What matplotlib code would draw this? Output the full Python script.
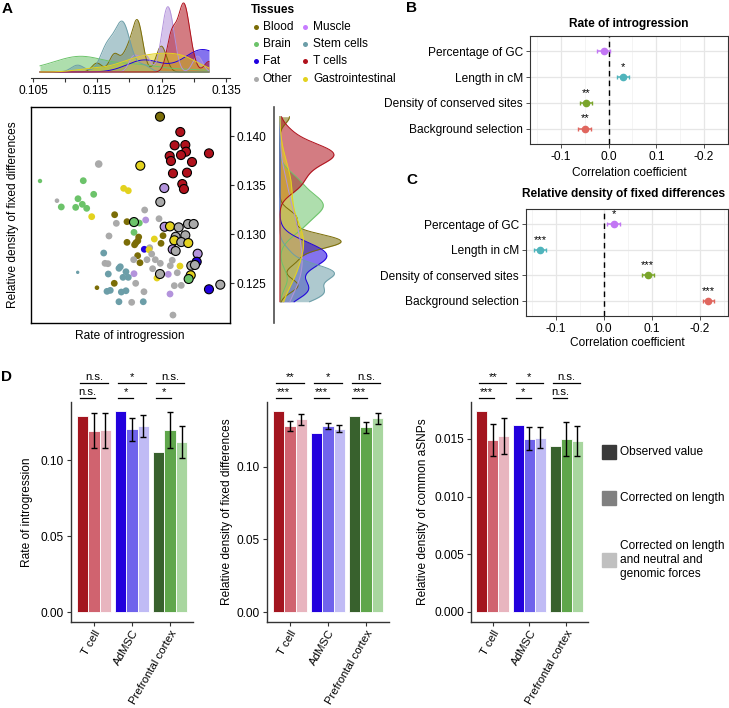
import numpy as np
import matplotlib
matplotlib.use("Agg")
import matplotlib.pyplot as plt
from matplotlib.patches import Rectangle
from matplotlib.transforms import blended_transform_factory

plt.rcParams['font.family'] = ['Liberation Sans', 'DejaVu Sans']
plt.rcParams['font.size'] = 8.6

W, H = 729, 708

# ---------------- Panel A data ----------------
tissue_names = ['Blood', 'Brain', 'Fat', 'Other', 'Muscle', 'Stem cells', 'T cells', 'Gastrointestinal']
tissue_colors = ['#7b6d07', '#6cc36a', '#2000e0', '#aaaaaa', '#b393dc', '#6c9ea8', '#b0111c', '#e3d21e']
legend_dot_colors = ['#7b6d07', '#6cc36a', '#2000e0', '#aaaaaa', '#c77cff', '#6c9ea8', '#b0111c', '#e3d21e']

rate = [0.12475, 0.12791, 0.12703, 0.12869, 0.12880, 0.12802, 0.12626, 0.12646, 0.12973, 0.13237,
        0.12677, 0.12895, 0.12822, 0.12848, 0.12169, 0.11522, 0.10609, 0.11282, 0.10873, 0.11200,
        0.10940, 0.11164, 0.11267, 0.11335, 0.11444, 0.11910, 0.11982, 0.12542, 0.12480, 0.11413,
        0.11770, 0.12237, 0.12253, 0.12460, 0.11796, 0.11962, 0.12071, 0.12153, 0.12548, 0.12631,
        0.12766, 0.12911, 0.12999, 0.12071, 0.11682, 0.12144, 0.12100, 0.12080, 0.12130, 0.11962,
        0.12387, 0.12522, 0.12491, 0.12719, 0.12869, 0.12698, 0.12806, 0.12915, 0.12673, 0.12719,
        0.12315, 0.12231, 0.12304, 0.12128, 0.12346, 0.12164, 0.12066, 0.12273, 0.12402, 0.12480,
        0.12666, 0.12635, 0.12786, 0.13061, 0.13046, 0.12962, 0.13019, 0.12744, 0.12361, 0.12475,
        0.12953, 0.12921, 0.12428, 0.12604, 0.12071, 0.11620, 0.11666, 0.11600, 0.11195, 0.11837,
        0.11858, 0.11946, 0.11671, 0.11900, 0.11982, 0.12097, 0.11764, 0.11495, 0.11651, 0.11702,
        0.11874, 0.11946, 0.12226, 0.12698, 0.12806, 0.12631, 0.13237, 0.13413, 0.11837, 0.12035,
        0.12215, 0.12677]
fixdiff = [0.14197, 0.14041, 0.13905, 0.13908, 0.13840, 0.13806, 0.13796, 0.13745, 0.13735, 0.13823,
           0.13619, 0.13626, 0.13510, 0.13459, 0.13697, 0.13714, 0.13541, 0.13544, 0.13340, 0.13360,
           0.13276, 0.13272, 0.13303, 0.13262, 0.13405, 0.13466, 0.13442, 0.13469, 0.13327, 0.13177,
           0.13197, 0.13245, 0.13143, 0.13156, 0.13109, 0.13126, 0.13122, 0.13112, 0.13074, 0.13078,
           0.13068, 0.13102, 0.13102, 0.13017, 0.12980, 0.12969, 0.12910, 0.12890, 0.12930, 0.12915,
           0.12949, 0.12983, 0.12905, 0.12972, 0.12987, 0.12936, 0.12918, 0.12908, 0.12844, 0.12827,
           0.12860, 0.12844, 0.12840, 0.12779, 0.12796, 0.12707, 0.12738, 0.12738, 0.12738, 0.12701,
           0.12732, 0.12677, 0.12673, 0.12799, 0.12717, 0.12677, 0.12684, 0.12605, 0.12646, 0.12592,
           0.12579, 0.12541, 0.12551, 0.12589, 0.12595, 0.12701, 0.12697, 0.12806, 0.12609, 0.12650,
           0.12666, 0.12615, 0.12592, 0.12558, 0.12558, 0.12497, 0.12497, 0.12452, 0.12415, 0.12425,
           0.12408, 0.12421, 0.12411, 0.12473, 0.12476, 0.12388, 0.12436, 0.12483, 0.12309, 0.12303,
           0.12309, 0.12173]
# index into tissue_names
tissue = [0, 6, 6, 6, 6, 6, 6, 6, 6, 6,
          6, 6, 6, 6, 7, 3, 1, 1, 3, 1,
          1, 1, 1, 1, 1, 7, 7, 4, 3, 7,
          0, 3, 4, 3, 3, 0, 1, 1, 4, 7,
          3, 3, 3, 1, 3, 0, 0, 0, 0, 0,
          7, 0, 0, 3, 3, 7, 3, 7, 4, 3,
          3, 2, 7, 0, 3, 0, 3, 3, 3, 3,
          3, 3, 7, 4, 2, 3, 3, 3, 3, 3,
          7, 1, 7, 4, 4, 3, 3, 5, 5, 5,
          5, 5, 5, 5, 5, 3, 0, 0, 5, 5,
          5, 5, 3, 3, 3, 4, 2, 3, 5, 3,
          5, 3]
outlined = [1, 1, 1, 1, 1, 1, 1, 1, 1, 1,
            1, 1, 1, 1, 1, 0, 0, 0, 0, 0,
            0, 0, 0, 0, 0, 0, 0, 1, 1, 0,
            0, 0, 0, 0, 0, 0, 1, 0, 1, 1,
            1, 1, 1, 0, 0, 0, 0, 0, 0, 0,
            0, 0, 0, 1, 1, 1, 1, 1, 1, 1,
            0, 0, 0, 0, 0, 0, 0, 0, 0, 0,
            0, 0, 0, 1, 1, 1, 1, 0, 0, 1,
            1, 1, 0, 0, 0, 0, 0, 0, 0, 0,
            0, 0, 0, 0, 0, 0, 0, 0, 0, 0,
            0, 0, 0, 0, 0, 0, 1, 1, 0, 0,
            0, 0]
# marker area (pt^2)
dot_size = [24] * len(rate)
for i in range(len(rate)):
    if outlined[i]:
        dot_size[i] = 42
for i, s in [(15, 30), (16, 10), (18, 11), (88, 6), (97, 11)]:
    dot_size[i] = s

# ---------------- Panel B / C data ----------------
predictors = ['Percentage of GC', 'Length in cM', 'Density of conserved sites', 'Background selection']
pred_colors = ['#c276f4', '#4fb4bc', '#7aa52a', '#e0665e']
intro_coef = [-0.010, 0.030, -0.047, -0.050]
intro_err = [0.0135, 0.0125, 0.0125, 0.0135]
intro_stars = ['', '*', '**', '**']
fixd_coef = [0.020, -0.133, 0.091, 0.217]
fixd_err = [0.0135, 0.012, 0.012, 0.012]
fixd_stars = ['*', '***', '***', '***']
coef_ticklabels = ['-0.1', '0.0', '0.1', '-0.2']

# ---------------- Panel D data ----------------
cell_types = ['T cell', 'AdMSC', 'Prefrontal cortex']
bar_colors = [['#a3151f', '#d0636f', '#e8b5bf'],
              ['#2200dd', '#6f63ec', '#c0bbf5'],
              ['#38612d', '#5fa64b', '#a8d69f']]
intro_obs = [0.1289, 0.1322, 0.1055]
intro_len = [0.1193, 0.1202, 0.1197]
intro_len_err = [0.0117, 0.0075, 0.0116]
intro_all = [0.1197, 0.1224, 0.1118]
intro_all_err = [0.0115, 0.0070, 0.0105]
intro_sig_top = ['n.s.', '*', 'n.s.']
intro_sig_low = ['n.s.', '*', '*']

fixd_obs = [0.1383, 0.1234, 0.1347]
fixd_len = [0.1280, 0.1280, 0.1271]
fixd_len_err = [0.0034, 0.0023, 0.0037]
fixd_all = [0.1326, 0.1262, 0.1333]
fixd_all_err = [0.0036, 0.0022, 0.0036]
fixd_sig_top = ['**', '*', 'n.s.']
fixd_sig_low = ['***', '***', '***']

asnp_obs = [0.01742, 0.01618, 0.01439]
asnp_len = [0.01490, 0.01502, 0.01499]
asnp_len_err = [0.00135, 0.00097, 0.00147]
asnp_all = [0.01523, 0.01511, 0.01485]
asnp_all_err = [0.00154, 0.00094, 0.00130]
asnp_sig_top = ['**', '*', 'n.s.']
asnp_sig_low = ['***', '*', 'n.s.']

legend_labels = ['Observed value', 'Corrected on length',
                 'Corrected on length\nand neutral and\ngenomic forces']
legend_grays = ['#3a3a3a', '#808080', '#c0c0c0']


def nrd0(v):
    v = np.asarray(v, float)
    sd = v.std(ddof=1)
    q75, q25 = np.percentile(v, [75, 25])
    lo = min(sd, (q75 - q25) / 1.34)
    if lo <= 0:
        lo = sd
    return 0.9 * lo * len(v) ** -0.2


def density(v, grid):
    v = np.asarray(v, float)
    bw = nrd0(v)
    z = (grid[:, None] - v[None, :]) / bw
    return np.exp(-0.5 * z ** 2).sum(axis=1) / (len(v) * bw * np.sqrt(2 * np.pi))


fig = plt.figure(figsize=(W / 100, H / 100), dpi=100)


def px_axes(x0, y0, x1, y1):
    return fig.add_axes([x0 / W, 1 - y1 / H, (x1 - x0) / W, (y1 - y0) / H])


rate = np.array(rate)
fixdiff = np.array(fixdiff)
tissue = np.array(tissue)
outlined = np.array(outlined)
dot_size = np.array(dot_size)
XLIM = (0.10469, 0.13564)
YLIM = (0.12092, 0.14296)

# ---- scatter
ax = px_axes(31, 107, 230, 323)
cols = np.array([tissue_colors[t] for t in tissue])
for flag in (0, 1):
    m = outlined == flag
    ax.scatter(rate[m], fixdiff[m], s=dot_size[m], c=cols[m],
               edgecolors='black' if flag else 'none', linewidths=0.8, zorder=2 + flag)
ax.set_xlim(XLIM)
ax.set_ylim(YLIM)
ax.set_xticks([])
ax.yaxis.tick_right()
ax.set_yticks([0.125, 0.130, 0.135, 0.140])
ax.set_yticklabels(['0.125', '0.130', '0.135', '0.140'])
ax.tick_params(axis='y', direction='out', length=3, width=0.8, color='#333333', pad=2)
for sp in ax.spines.values():
    sp.set_color('black')
    sp.set_linewidth(1)

# ---- marginal densities (Other excluded)
keep = tissue != 3
xgrid = np.linspace(rate[keep].min(), rate[keep].max(), 512)
ygrid = np.linspace(fixdiff[keep].min(), fixdiff[keep].max(), 512)
ax_top = px_axes(31, 0, 230, 78)
ax_right = px_axes(274, 107, 345, 323)
mx, my = 0, 0
for t, name in enumerate(tissue_names):
    if t == 3:
        continue
    m = tissue == t
    dx = density(rate[m], xgrid)
    dy = density(fixdiff[m], ygrid)
    mx, my = max(mx, dx.max()), max(my, dy.max())
    ax_top.fill_between(xgrid, 0, dx, color=tissue_colors[t], alpha=0.55, lw=0)
    ax_top.plot(xgrid, dx, color=tissue_colors[t], lw=0.7)
    ax_right.fill_betweenx(ygrid, 0, dy, color=tissue_colors[t], alpha=0.55, lw=0)
    ax_right.plot(dy, ygrid, color=tissue_colors[t], lw=0.7)

ax_top.set_xlim(XLIM)
ax_top.set_ylim(-0.087 * mx, 1.043 * mx)
ax_top.set_xticks(np.arange(0.105, 0.1351, 0.005))
ax_top.set_xticklabels(['0.105', '', '0.115', '', '0.125', '', '0.135'])
ax_top.set_yticks([])
ax_top.tick_params(axis='x', length=3, width=0.8, color='#333333', pad=2)
for k in ('top', 'left', 'right'):
    ax_top.spines[k].set_visible(False)
ax_top.spines['bottom'].set_color('#333333')
ax_top.patch.set_alpha(0)

ax_right.set_ylim(YLIM)
ax_right.set_xlim(-6 / 62 * my, 66 / 62 * my)
ax_right.set_xticks([])
ax_right.set_yticks([])
for k in ('top', 'bottom', 'right'):
    ax_right.spines[k].set_visible(False)
ax_right.spines['left'].set_color('#4d4d4d')
ax_right.spines['left'].set_linewidth(1.2)
ax_right.patch.set_alpha(0)


# ---- panels B and C
def forest(ax, coef, err, stars, xlim):
    ypos = [4, 3, 2, 1]
    ax.set_xlim(xlim)
    ax.set_ylim(0.4, 4.6)
    ax.set_xticks([-0.1, 0.0, 0.1, 0.2])
    ax.set_xticklabels(coef_ticklabels)
    ax.set_xticks([-0.15, -0.05, 0.05, 0.15, 0.25], minor=True)
    ax.set_yticks(ypos)
    ax.set_yticklabels(predictors)
    ax.grid(which='major', color='#e6e6e6', lw=0.9)
    ax.grid(which='minor', axis='x', color='#f2f2f2', lw=0.6)
    ax.set_axisbelow(True)
    ax.axvline(0, color='black', ls=(0, (4, 3)), lw=1, zorder=1)
    for y, c, e, s, col in zip(ypos, coef, err, stars, pred_colors):
        ax.errorbar(c, y, xerr=e, fmt='o', color=col, ms=4.5, capsize=1.5,
                    elinewidth=1.1, capthick=1, zorder=3)
        if s:
            ax.text(c, y + 0.2, s, ha='center', va='bottom', fontsize=8)
    ax.tick_params(which='major', length=3, width=0.6, color='#333333', pad=2)
    ax.tick_params(which='minor', length=0)
    for sp in ax.spines.values():
        sp.set_color('#333333')
        sp.set_linewidth(0.8)


axB = px_axes(530, 36, 728, 144)
forest(axB, intro_coef, intro_err, intro_stars, (-0.1646, 0.248))
axC = px_axes(526, 209, 728, 316)
forest(axC, fixd_coef, fixd_err, fixd_stars, (-0.1625, 0.258))


# ---- panel D
def bars(ax, obs, lenv, len_err, allv, all_err, sig_top, sig_low, ylim, yticks, ylabels):
    xs = np.arange(1, 4)
    for i, x in enumerate(xs):
        vals = [obs[i], lenv[i], allv[i]]
        for k in range(3):
            ax.bar(x + (k - 1) * 0.3, vals[k], width=0.3, color=bar_colors[i][k],
                   edgecolor='white', linewidth=0.6)
        ax.errorbar([x, x + 0.3], [lenv[i], allv[i]], yerr=[len_err[i], all_err[i]],
                    fmt='none', ecolor='black', elinewidth=1, capsize=2.5, capthick=1)
    tr = blended_transform_factory(ax.transData, ax.transAxes)
    for i, x in enumerate(xs):
        ax.plot([x - 0.37, x + 0.37], [1.086, 1.086], color='black', lw=0.9,
                transform=tr, clip_on=False)
        ax.plot([x - 0.37, x + 0.03], [1.018, 1.018], color='black', lw=0.9,
                transform=tr, clip_on=False)
        ax.text(x, 1.099, sig_top[i], ha='center', va='baseline', fontsize=8.2,
                transform=tr, clip_on=False)
        ax.text(x - 0.17, 1.031, sig_low[i], ha='center', va='baseline', fontsize=8.2,
                transform=tr, clip_on=False)
    ax.set_xlim(0.4, 3.6)
    ax.set_ylim(ylim)
    ax.set_xticks(xs)
    ax.set_xticklabels(cell_types, rotation=60, ha='right', va='top',
                       rotation_mode='anchor', fontsize=8.2)
    ax.set_yticks(yticks)
    ax.set_yticklabels(ylabels)
    ax.tick_params(length=3, width=0.8, color='#333333', pad=2)
    ax.tick_params(axis='x', pad=1.5)
    for k in ('top', 'right'):
        ax.spines[k].set_visible(False)
    for k in ('left', 'bottom'):
        ax.spines[k].set_color('#333333')
        ax.spines[k].set_linewidth(1)


axD1 = px_axes(71, 402, 193, 622)
bars(axD1, intro_obs, intro_len, intro_len_err, intro_all, intro_all_err,
     intro_sig_top, intro_sig_low, (-0.00658, 0.1382), [0, 0.05, 0.10], ['0.00', '0.05', '0.10'])
axD2 = px_axes(267, 402, 389, 622)
bars(axD2, fixd_obs, fixd_len, fixd_len_err, fixd_all, fixd_all_err,
     fixd_sig_top, fixd_sig_low, (-0.00688, 0.1445), [0, 0.05, 0.10], ['0.00', '0.05', '0.10'])
axD3 = px_axes(471, 402, 588, 622)
bars(axD3, asnp_obs, asnp_len, asnp_len_err, asnp_all, asnp_all_err,
     asnp_sig_top, asnp_sig_low, (-0.000867, 0.0182), [0, 0.005, 0.010, 0.015],
     ['0.000', '0.005', '0.010', '0.015'])

# ---- overlay for free text in pixel coordinates
ov = fig.add_axes([0, 0, 1, 1])
ov.set_xlim(0, W)
ov.set_ylim(H, 0)
ov.axis('off')

for s, x, y in [('A', 2, 9), ('B', 406, 8), ('C', 406, 180), ('D', 1, 377)]:
    ov.text(x, y, s, fontsize=11, weight='bold', ha='left', va='center')

# tissues legend
ov.text(251, 10, 'Tissues', weight='bold', ha='left', va='center')
for t, name in enumerate(tissue_names):
    col, row = divmod(t, 4)
    y = [27, 44, 61, 79][row]
    ov.plot([256, 305][col], y, 'o', ms=3.6, color=legend_dot_colors[t], mec='none')
    ov.text([263, 313][col], y, name, ha='left', va='center')

ov.text(13, 215, 'Relative density of fixed differences', rotation=90, ha='center', va='center')
ov.text(130, 336, 'Rate of introgression', ha='center', va='center')

ov.text(629, 24, 'Rate of introgression', weight='bold', ha='center', va='center')
ov.text(629, 173, 'Correlation coefficient', ha='center', va='center')
ov.text(624, 194, 'Relative density of fixed differences', weight='bold', ha='center', va='center')
ov.text(627, 343, 'Correlation coefficient', ha='center', va='center')

ov.text(27, 512, 'Rate of introgression', rotation=90, ha='center', va='center')
ov.text(227, 512, 'Relative density of fixed differences', rotation=90, ha='center', va='center')
ov.text(423, 512, 'Relative density of common aSNPs', rotation=90, ha='center', va='center')

for lab, g, y in zip(legend_labels, legend_grays, [452, 498, 560]):
    ov.add_patch(Rectangle((602, y - 7), 14, 14, color=g))
    ov.text(620, y, lab, ha='left', va='center', linespacing=1.25)

fig.savefig('out.png', dpi=100)
plt.close(fig)
